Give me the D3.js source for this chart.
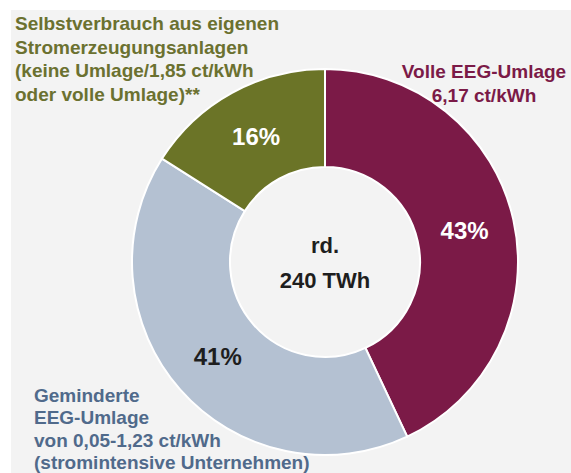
<!DOCTYPE html>
<html>
<head>
<meta charset="utf-8">
<script src="https://cdn.jsdelivr.net/npm/d3@7"></script>
<style>
  html, body { margin: 0; padding: 0; background: #ffffff; }
  svg { display: block; }
  text { font-family: "Liberation Sans", Arial, sans-serif; font-weight: bold; }
</style>
</head>
<body>
<svg id="chart" width="571" height="473"></svg>
<script>
const categories = ["Volle EEG-Umlage", "Geminderte EEG-Umlage", "Selbstverbrauch"];
const values = [43, 41, 16];
const valueLabels = ["43%", "41%", "16%"];
const colors = ["#7b1a47", "#b4c1d2", "#6b7427"];
const valueColors = ["#ffffff", "#1e1e1e", "#ffffff"];
const centerLines = ["rd.", "240 TWh"];
const labelLines = [
  ["Volle EEG-Umlage", "6,17 ct/kWh"],
  ["Geminderte", "EEG-Umlage", "von 0,05-1,23 ct/kWh", "(stromintensive Unternehmen)"],
  ["Selbstverbrauch aus eigenen", "Stromerzeugungsanlagen", "(keine Umlage/1,85 ct/kWh", "oder volle Umlage)**"]
];
const labelColors = ["#7b1a47", "#506a8b", "#6b7130"];

const W = 571, H = 473;
const svg = d3.select("#chart");
svg.append("rect").attr("x", 0).attr("y", 0).attr("width", W).attr("height", H).attr("fill", "#ffffff");
svg.append("rect").attr("x", 11).attr("y", 10).attr("width", W - 11).attr("height", H - 10).attr("fill", "#f3f3f3");

const cx = 325, cy = 262, R = 193, r = 95;
const g = svg.append("g").attr("transform", `translate(${cx},${cy})`);

const pie = d3.pie().sort(null).value(d => d)(values);
const arc = d3.arc().innerRadius(r).outerRadius(R);

g.selectAll("path.slice").data(pie).enter().append("path")
  .attr("class", "slice")
  .attr("d", arc)
  .attr("fill", (d, i) => colors[i])
  .attr("stroke", "#ffffff")
  .attr("stroke-width", 2);

// value labels at slice mid-angle
const labelArc = d3.arc().innerRadius(143).outerRadius(143);
g.selectAll("text.val").data(pie).enter().append("text")
  .attr("class", "val")
  .attr("transform", d => `translate(${labelArc.centroid(d)})`)
  .attr("text-anchor", "middle")
  .attr("dy", "0.36em")
  .attr("font-size", 24)
  .attr("fill", (d, i) => valueColors[i])
  .text((d, i) => valueLabels[i]);

// center text
g.append("text").attr("text-anchor", "middle").attr("y", -9).attr("font-size", 22).attr("fill", "#1e1e1e").text(centerLines[0]);
g.append("text").attr("text-anchor", "middle").attr("y", 26).attr("font-size", 22).attr("fill", "#1e1e1e").text(centerLines[1]);

// category labels
const lblPos = [
  {x: 484, y: 78, anchor: "middle", lh: 24},
  {x: 34, y: 402, anchor: "start", lh: 22.3},
  {x: 15, y: 30, anchor: "start", lh: 23.7}
];
lblPos.forEach((p, i) => {
  const t = svg.append("text")
    .attr("text-anchor", p.anchor)
    .attr("font-size", 19)
    .attr("fill", labelColors[i]);
  labelLines[i].forEach((line, j) => {
    t.append("tspan").attr("x", p.x).attr("y", p.y + j * p.lh).text(line);
  });
});
</script>
</body>
</html>
